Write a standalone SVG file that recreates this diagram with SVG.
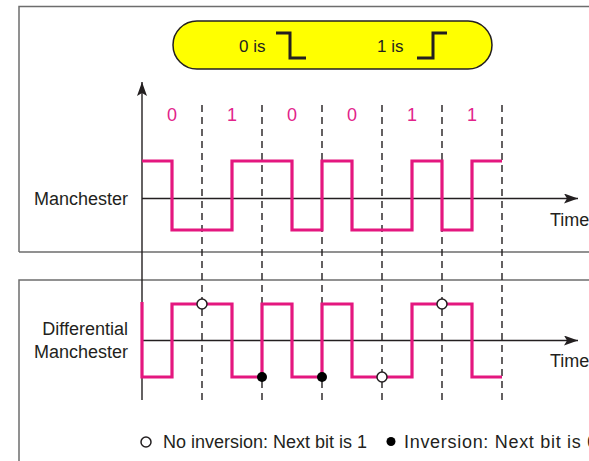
<svg xmlns="http://www.w3.org/2000/svg" width="589" height="461" viewBox="0 0 589 461">
<style>
text{font-family:"Liberation Sans",Arial,sans-serif;fill:#231f20}
.lbl{font-size:18px}
.bit{font-size:18px;fill:#e2238a;text-anchor:middle}
.frame{fill:none;stroke:#6d6d6d;stroke-width:1.5}
.axis{fill:none;stroke:#231f20;stroke-width:1.4}
.dash{fill:none;stroke:#231f20;stroke-width:1.4;stroke-dasharray:7 5}
.wave{fill:none;stroke:#e4177f;stroke-width:3.2;stroke-linejoin:miter}
.step{fill:none;stroke:#231f20;stroke-width:3}
.open{fill:#fff;stroke:#231f20;stroke-width:1.5}
.fill{fill:#000}
</style>
<defs>
<marker id="ah" viewBox="0 0 14 10" refX="14" refY="5" markerWidth="14" markerHeight="10" markerUnits="userSpaceOnUse" orient="auto">
<path d="M0,0 L14,5 L0,10 L3,5 Z" fill="#231f20"/>
</marker>
</defs>
<rect width="589" height="461" fill="#fff"/>
<g id="frame">
<path class="frame" d="M19,461 V280 H589 M19,252 V6.5 H589 M19,252 H589"/>
</g>
<g id="legend-key">
<rect x="173" y="21" width="319" height="48" rx="24" ry="24" fill="#ffff00" stroke="#231f20" stroke-width="1.5"/>
<text class="lbl" x="239" y="52" style="font-size:17px">0 is</text>
<polyline class="step" points="276,33 290,33 290,58 306,58"/>
<text class="lbl" x="377" y="52" style="font-size:17px">1 is</text>
<polyline class="step" points="417,58 433,58 433,33 447,33"/>
</g>
<g id="bits">
<text class="bit" x="172" y="121">0</text>
<text class="bit" x="232" y="121">1</text>
<text class="bit" x="292" y="121">0</text>
<text class="bit" x="352" y="121">0</text>
<text class="bit" x="412" y="121">1</text>
<text class="bit" x="472" y="121">1</text>
</g>
<g id="connectors">
<line class="axis" x1="142" y1="400" x2="142" y2="82" marker-end="url(#ah)"/>
<line class="axis" x1="142" y1="198.5" x2="578" y2="198.5" marker-end="url(#ah)"/>
<line class="axis" x1="142" y1="340.5" x2="578" y2="340.5" marker-end="url(#ah)"/>
<path class="dash" d="M202,105 V400 M262,105 V400 M322,105 V400 M382,105 V400 M442,105 V400 M502,105 V400"/>
</g>
<g id="manchester">
<text class="lbl" x="128" y="205" text-anchor="end">Manchester</text>
<path class="wave" d="M142,161 H172 V230 H232 V161 H292 V230 H322 V161 H352 V230 H412 V161 H442 V230 H472 V161 H502"/>
<text class="lbl" x="550" y="226">Time</text>
</g>
<g id="differential-manchester">
<text class="lbl" x="128" y="335" text-anchor="end">Differential</text>
<text class="lbl" x="128" y="358" text-anchor="end">Manchester</text>
<path class="wave" d="M142,302 V377 H172 V304 H232 V377 H262 V304 H292 V377 H322 V304 H352 V377 H412 V304 H472 V377 H502"/>
<text class="lbl" x="550" y="367">Time</text>
<circle class="open" cx="202" cy="304" r="5"/>
<circle class="fill" cx="262" cy="377" r="5"/>
<circle class="fill" cx="322" cy="377" r="5"/>
<circle class="open" cx="382" cy="377" r="5"/>
<circle class="open" cx="442" cy="304" r="5"/>
</g>
<g id="legend">
<circle class="open" cx="146" cy="442" r="5"/>
<text class="lbl" x="163" y="448">No inversion: Next bit is 1</text>
<circle class="fill" cx="391" cy="441.5" r="4.5"/>
<text class="lbl" x="404" y="448" letter-spacing="0.7">Inversion: Next bit is 0</text>
</g>
</svg>
